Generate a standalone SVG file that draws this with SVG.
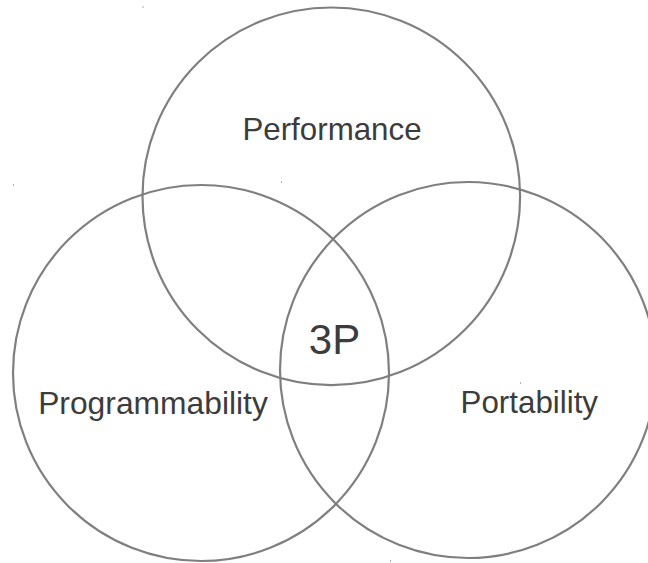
<svg xmlns="http://www.w3.org/2000/svg" width="648" height="563" viewBox="0 0 648 563">
  <style>
    .ring { fill: none; stroke: #7f7f7f; stroke-width: 2.2; }
    .lbl { font-family: "Liberation Sans", Arial, sans-serif; fill: #3c3c3c; text-anchor: middle; }
    .mark { fill: #b0b0b0; }
  </style>
  <rect width="648" height="563" fill="#ffffff"/>
  <g id="performance">
    <circle class="ring" cx="331.3" cy="196.3" r="188.8"/>
    <text class="lbl" x="332" y="140" font-size="31.3">Performance</text>
  </g>
  <g id="programmability">
    <circle class="ring" cx="201" cy="373" r="188"/>
    <text class="lbl" x="153" y="414" font-size="31.8">Programmability</text>
  </g>
  <g id="portability">
    <circle class="ring" cx="468" cy="370" r="188"/>
    <text class="lbl" x="529.3" y="413" font-size="31.3">Portability</text>
  </g>
  <g id="center-3p">
    <text class="lbl" x="334.5" y="353.5" font-size="42">3P</text>
  </g>
  <g id="marks">
    <rect class="mark" x="142.5" y="6" width="1" height="2"/>
    <rect class="mark" x="13" y="184" width="1" height="2"/>
    <rect class="mark" x="281" y="181" width="1" height="2"/>
    <rect class="mark" x="520" y="382" width="1" height="2"/>
    <rect class="mark" x="390" y="560" width="1" height="2"/>
  </g>
</svg>
